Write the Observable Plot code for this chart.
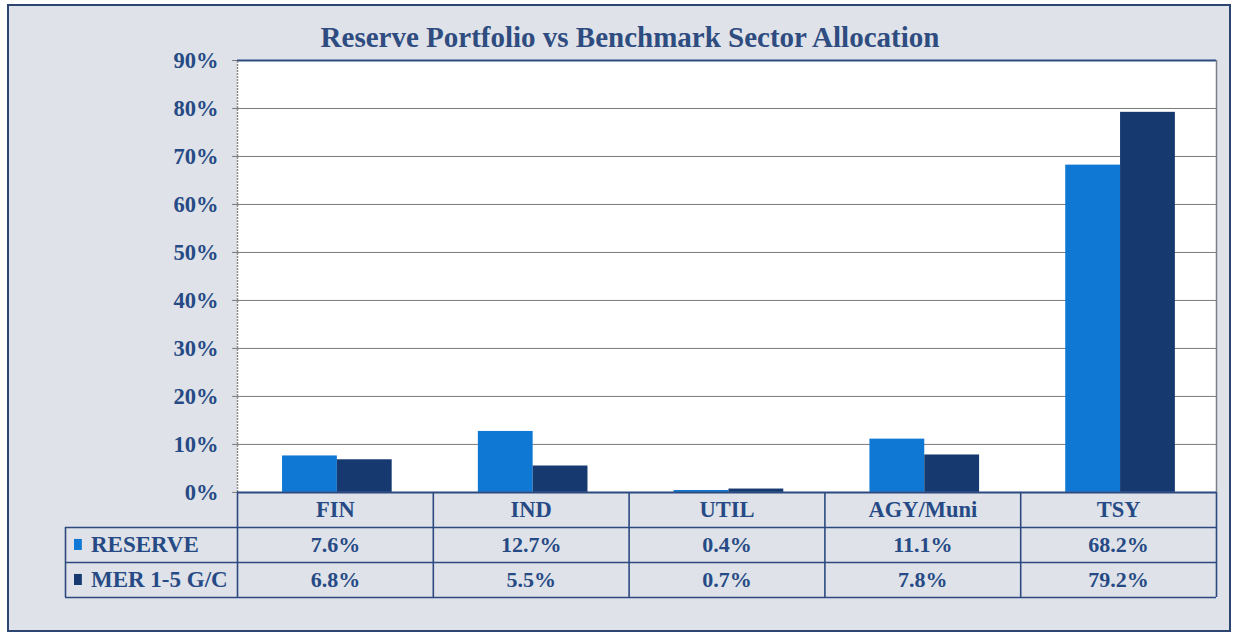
<!DOCTYPE html>
<html>
<head>
<meta charset="utf-8">
<script src="https://cdn.jsdelivr.net/npm/d3@7"></script>
<script src="https://cdn.jsdelivr.net/npm/@observablehq/plot@0.6"></script>
<style>
  html, body { margin: 0; padding: 0; background: #ffffff; }
  body { width: 1235px; height: 636px; position: relative; overflow: hidden; }
  #frame { position: absolute; left: 7px; top: 4px; width: 1224px; height: 628px; box-sizing: border-box;
           border: 2px solid #2c4571; background: #dfe2e8; }
  #title { position: absolute; left: 0; top: 0; width: 1235px; height: 52px; box-sizing: border-box;
           padding-top: 21px; padding-left: 25px; text-align: center; line-height: 32px;
           font-family: "Liberation Serif", serif; font-weight: bold; font-size: 29px; color: #2e4c80; }
  #chart { position: absolute; left: 0; top: 52px; }
</style>
</head>
<body>
<div id="frame"></div>
<div id="title">Reserve Portfolio vs Benchmark Sector Allocation</div>
<div id="chart"></div>
<script>
const categories = ["FIN", "IND", "UTIL", "AGY/Muni", "TSY"];
const seriesNames = ["RESERVE", "MER 1-5 G/C"];
const reserve = [7.6, 12.7, 0.4, 11.1, 68.2];
const benchmark = [6.8, 5.5, 0.7, 7.8, 79.2];
const yTicks = [0, 10, 20, 30, 40, 50, 60, 70, 80, 90];
const seriesColors = ["#0f78d4", "#163a6f"];

// layout helpers (in scale units)
const rowH = 7.3;             // table row height in y units
const legendX = -0.8785;      // left edge of legend column in x units
const barW = 0.28;            // bar width in category units
const ink = "#264a85";
const lineC = "#2c4a80";

const rows = categories.flatMap((c, i) => [
  {cat: c, i, s: 0, series: seriesNames[0], value: reserve[i]},
  {cat: c, i, s: 1, series: seriesNames[1], value: benchmark[i]}
]);
const legendRows = seriesNames.map((name, s) => ({name, s}));
const rowY = s => -(s + 1.5) * rowH;

const font = {fontFamily: "Liberation Serif", fontWeight: "bold"};

const chart = Plot.plot({
  width: 1235,
  height: 584,
  marginLeft: 65,
  marginRight: 19,
  marginTop: 8,
  marginBottom: 39,
  style: {background: "transparent", overflow: "visible"},
  x: {domain: [legendX, categories.length], axis: null},
  y: {domain: [-3 * rowH, 90], axis: null},
  color: {domain: seriesNames, range: seriesColors},
  marks: [
    // plot area
    Plot.rect([0], {x1: 0, x2: categories.length, y1: 0, y2: 90, fill: "white"}),
    // gridlines
    Plot.ruleY(yTicks.filter(t => t > 0 && t < 90), {x1: 0, x2: categories.length, stroke: "#7a7a7a", strokeWidth: 1}),
    Plot.ruleY([90], {x1: 0, x2: categories.length, stroke: "#2c4a80", strokeWidth: 2}),
    Plot.ruleX([categories.length], {y1: 0, y2: 90, stroke: "#7a7f8a", strokeWidth: 1.5}),
    Plot.ruleX([0], {y1: 0, y2: 90, stroke: "#8a8a8a", strokeWidth: 1.5, strokeDasharray: "2,1"}),
    // y ticks and labels
    Plot.ruleY(yTicks, {x1: -0.025, x2: 0, stroke: "#7a7a7a"}),
    Plot.text(yTicks, {x: 0, y: d => d, text: d => d + "%", textAnchor: "end", dx: -19,
      fill: ink, fontSize: 22.5, ...font}),
    // bars
    Plot.rect(rows, {
      x1: d => d.i + 0.51 - barW * (1 - d.s),
      x2: d => d.i + 0.51 + barW * d.s,
      y1: 0, y2: "value", fill: "series"
    }),
    // data table lines
    Plot.ruleY([-rowH, -2 * rowH, -3 * rowH], {x1: legendX, x2: categories.length, stroke: lineC, strokeWidth: 1.6}),
    Plot.ruleY([0], {x1: 0, x2: categories.length, stroke: lineC, strokeWidth: 2}),
    Plot.ruleX(d3.range(categories.length + 1), {y1: 0, y2: -3 * rowH, stroke: lineC, strokeWidth: 1.6}),
    Plot.ruleX([legendX], {y1: -rowH, y2: -3 * rowH, stroke: lineC, strokeWidth: 1.6}),
    // category header
    Plot.text(categories, {x: (d, i) => i + 0.5, y: -rowH / 2, text: d => d, fill: ink, fontSize: 22.5, ...font}),
    // values
    Plot.text(rows, {x: d => d.i + 0.5, y: d => rowY(d.s), text: d => d.value.toFixed(1) + "%",
      fill: ink, fontSize: 22, ...font}),
    // legend swatches and labels
    Plot.rect(legendRows, {x1: legendX + 0.046, x2: legendX + 0.086,
      y1: d => rowY(d.s) - 1.15, y2: d => rowY(d.s) + 1.15, fill: "name"}),
    Plot.text(legendRows, {x: legendX + 0.13, y: d => rowY(d.s), text: "name", textAnchor: "start",
      fill: ink, fontSize: 23, ...font})
  ]
});
document.getElementById("chart").appendChild(chart);
</script>
</body>
</html>
